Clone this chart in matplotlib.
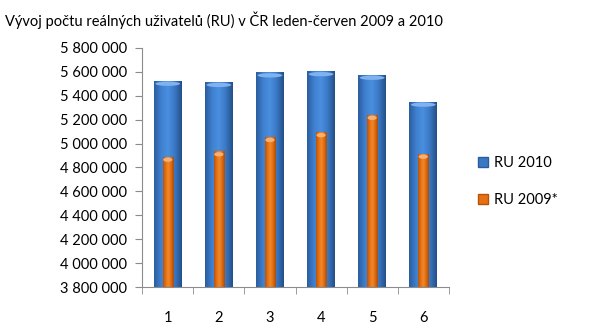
import numpy as np
import matplotlib.pyplot as plt
from matplotlib.colors import LinearSegmentedColormap
from matplotlib.patches import Patch, Ellipse

months = [1, 2, 3, 4, 5, 6]
ru_2010 = [5520000, 5510000, 5590000, 5600000, 5570000, 5345000]
ru_2009 = [4885000, 4930000, 5050000, 5090000, 5235000, 4910000]
yticks = list(range(3800000, 5800001, 200000))

plt.rcParams['font.family'] = ['Lato', 'DejaVu Sans']

blue_cmap = LinearSegmentedColormap.from_list(
    "blue", ["#2b5d9e", "#3f80d0", "#4a8fe0", "#3a78c4", "#244f88"])
orange_cmap = LinearSegmentedColormap.from_list(
    "orange", ["#b4530a", "#e87012", "#f08a2c", "#e06a10", "#a84c08"])
grad = np.linspace(0, 1, 64).reshape(1, -1)


def cylinder(ax, x, top, width, cmap, cap_color, bottom):
    l, r = x - width / 2, x + width / 2
    ax.imshow(grad, cmap=cmap, extent=(l, r, bottom, top), aspect='auto',
              interpolation='bicubic', zorder=2)
    ax.add_patch(Ellipse((x, top - 20000), width * 0.9, 36000,
                         color=cap_color, zorder=3, lw=0))


fig = plt.figure(figsize=(6, 3.3), dpi=100)
ax = fig.add_axes([0.237, 0.130, 0.511, 0.725])

for m, v10, v09 in zip(months, ru_2010, ru_2009):
    cylinder(ax, m, v10, 0.54, blue_cmap, "#7fb2ee", yticks[0])
    cylinder(ax, m, v09, 0.2, orange_cmap, "#f7b072", yticks[0])

ax.set_xlim(0.5, 6.5)
ax.set_ylim(yticks[0], yticks[-1])
ax.set_yticks(yticks)
ax.set_yticklabels(["{:,}".format(t).replace(",", " ") for t in yticks],
                   fontsize=10.5)
ax.set_xticks(months)
ax.set_xticklabels([str(m) for m in months], fontsize=10.5)
ax.set_xticks(np.arange(0.5, 7, 1), minor=True)
ax.tick_params(axis='x', which='major', length=0, pad=17)
ax.tick_params(axis='x', which='minor', length=5, color='#8c8c8c')
ax.tick_params(axis='y', length=5, color='#8c8c8c', pad=6)

for s in ['top', 'right']:
    ax.spines[s].set_visible(False)
for s in ['left', 'bottom']:
    ax.spines[s].set_color('#8c8c8c')

fig.text(0.008, 0.94, "Vývoj počtu reálných uživatelů (RU) v ČR leden-červen 2009 a 2010",
         fontsize=10.5, va='center')

handles = [Patch(facecolor='#3a78c4', edgecolor='#2b5d9e', label='RU 2010'),
           Patch(facecolor='#e87012', edgecolor='#b4530a', label='RU 2009*')]
fig.legend(handles=handles, loc='center left', bbox_to_anchor=(0.775, 0.45),
           frameon=False, fontsize=10.5, handlelength=0.7, handleheight=0.7,
           handletextpad=0.4, labelspacing=1.6)

plt.savefig("out.png", dpi=100)
